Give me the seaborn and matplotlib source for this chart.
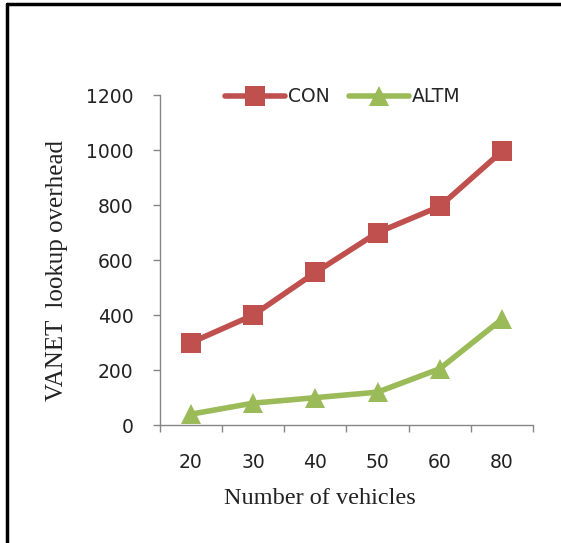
import numpy as np
import pandas as pd
import seaborn as sns
import matplotlib.pyplot as plt
from matplotlib.lines import Line2D

vehicles = ["20", "30", "40", "50", "60", "80"]
con = [300, 400, 555, 700, 795, 995]
altm = [40, 80, 100, 120, 205, 385]

df = pd.DataFrame({
    "vehicles": vehicles * 2,
    "overhead": con + altm,
    "method": ["CON"] * len(vehicles) + ["ALTM"] * len(vehicles),
})

sns.set_theme(style="white")
plt.rcParams["font.family"] = ["DejaVu Sans"]

fig = plt.figure(figsize=(5.61, 5.43), dpi=100)
ax = fig.add_axes([0.285, 0.217, 0.665, 0.608])

colors = {"CON": "#C0504D", "ALTM": "#9BBB59"}
sns.lineplot(data=df, x="vehicles", y="overhead", hue="method", style="method",
             markers={"CON": "s", "ALTM": "^"}, dashes=False, palette=colors,
             linewidth=4, markersize=14, markeredgewidth=0, ax=ax, sort=False)

ax.set_ylim(0, 1200)
ax.set_yticks(np.arange(0, 1201, 200))
ax.set_xlim(-0.5, len(vehicles) - 0.5)
ax.set_xticks(np.arange(-0.5, len(vehicles), 1))
ax.set_xticklabels([])
ax.set_xticks(np.arange(len(vehicles)), minor=True)
ax.set_xticklabels(vehicles, minor=True)
ax.tick_params(axis="x", which="major", length=5, width=1, color="#868686", direction="out", bottom=True)
ax.tick_params(axis="x", which="minor", length=0, pad=20, labelsize=13.5, colors="#222222")
ax.tick_params(axis="y", length=5, width=1, color="#868686", direction="out", left=True, pad=14,
               labelsize=13.5, labelcolor="#222222")

for s in ["top", "right"]:
    ax.spines[s].set_visible(False)
for s in ["left", "bottom"]:
    ax.spines[s].set_color("#868686")
    ax.spines[s].set_linewidth(1)

ax.set_xlabel("Number of vehicles", family="Liberation Serif", fontsize=17.5, color="#222222")
ax.set_ylabel("VANET  lookup overhead", family="Liberation Serif", fontsize=18, color="#222222")
ax.xaxis.set_label_coords(0.43, -0.19)
ax.yaxis.set_label_coords(-0.245, 0.47)

handles = [Line2D([], [], color=colors[m], lw=4, marker=mk, markersize=14, markeredgewidth=0)
           for m, mk in [("CON", "s"), ("ALTM", "^")]]
ax.legend(handles, ["CON", "ALTM"], loc="center", bbox_to_anchor=(0.49, 0.995), ncol=2, frameon=False,
          fontsize=13.5, handlelength=3.2, handletextpad=0.15, columnspacing=1.0)

fig.add_artist(Line2D([0.012, 0.012], [0, 0.993], color="black", lw=2.5, transform=fig.transFigure))
fig.add_artist(Line2D([0.012, 1], [0.993, 0.993], color="black", lw=2.5, transform=fig.transFigure))

fig.savefig("out.png", dpi=100)
